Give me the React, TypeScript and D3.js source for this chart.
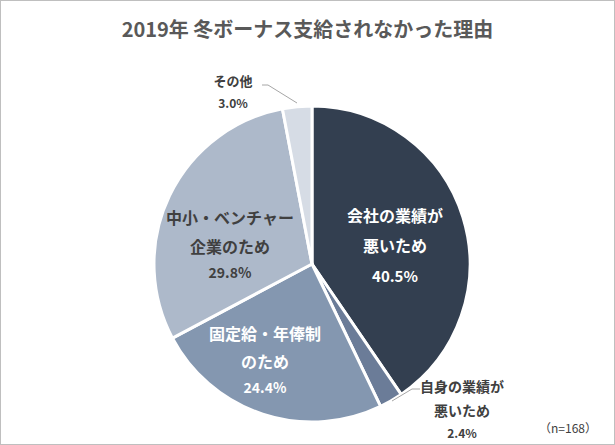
import React from "react";
import * as d3 from "d3";

const categories = ["会社の業績が悪いため", "自身の業績が悪いため", "固定給・年俸制のため", "中小・ベンチャー企業のため", "その他"];
const values = [40.5, 2.4, 24.4, 29.8, 3.0];
const colors = ["#333F50", "#6B7C98", "#8497B0", "#ADB9CA", "#D6DCE5"];
const labelLines = [["会社の業績が", "悪いため"], ["自身の業績が", "悪いため"], ["固定給・年俸制", "のため"], ["中小・ベンチャー", "企業のため"], ["その他"]];
const title = "2019年 冬ボーナス支給されなかった理由";
const note = "（n=168）";

const W = 615, H = 445;
const cx = 312, cy = 264, R = 158;
const font = "'Noto Sans CJK JP', 'Noto Sans', sans-serif";

export default function App() {
  const pie = d3.pie<number>().sort(null).value((d) => d);
  const arcs = pie(values);
  const arcGen = d3.arc<d3.PieArcDatum<number>>().innerRadius(0).outerRadius(R);

  const labelPos: [number, number][] = [
    [83, -49],
    [150, 122],
    [-47, 69],
    [-82, -47],
    [-79, -184],
  ];
  const textColor = ["#FFFFFF", "#404040", "#FFFFFF", "#404040", "#404040"];
  const nameSize = [16, 14, 16, 16, 13];
  const pctSize = [15, 12, 14, 14, 12];
  const lineGap = [30, 24, 28, 29, 22];
  const pctGap = [30, 22, 26, 26, 22];

  return (
    <svg width={W} height={H} style={{ position: "absolute", left: 0, top: 0, display: "block" }}>
      <rect x={0.5} y={0.5} width={W - 1} height={H - 1} fill="#fff" stroke="#BFBFBF" strokeWidth={1} />
      <text x={W / 2} y={37} textAnchor="middle" fontFamily={font} fontSize={20} fontWeight="bold" fill="#595959">
        {title}
      </text>
      <g transform={`translate(${cx},${cy})`}>
        {arcs.map((a, i) => (
          <path key={categories[i]} d={arcGen(a) || ""} fill={colors[i]} stroke="#fff" strokeWidth={3} strokeLinejoin="round" />
        ))}
        <polyline points={`${-50},${-179} ${-44},${-179} ${-15},${-161}`} fill="none" stroke="#A6A6A6" strokeWidth={1} />
        <polyline points={`${108},${125} ${100},${125} ${80},${137}`} fill="none" stroke="#A6A6A6" strokeWidth={1} />
        {arcs.map((a, i) => {
          const [lx, ly] = labelPos[i];
          const lines = labelLines[i];
          const gap = lineGap[i];
          return (
            <g key={"l" + i} fontFamily={font} fontWeight="bold" fill={textColor[i]} textAnchor="middle">
              {lines.map((t, j) => (
                <text key={j} x={lx} y={ly + j * gap} fontSize={nameSize[i]} dominantBaseline="central">
                  {t}
                </text>
              ))}
              <text x={lx} y={ly + (lines.length - 1) * gap + pctGap[i]} fontSize={pctSize[i]} dominantBaseline="central">
                {values[i].toFixed(1)}%
              </text>
            </g>
          );
        })}
      </g>
      <text x={568} y={427} textAnchor="middle" fontFamily={font} fontSize={12} fill="#404040" dominantBaseline="central">
        {note}
      </text>
    </svg>
  );
}
